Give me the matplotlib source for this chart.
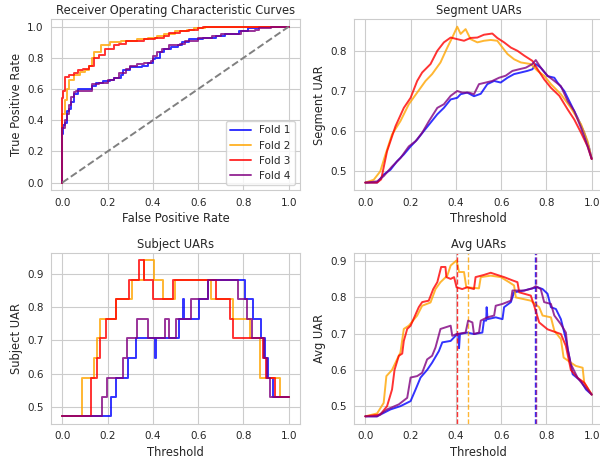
import matplotlib
matplotlib.use("Agg")
import matplotlib.pyplot as plt
import seaborn as sns

sns.set_style("whitegrid")
plt.rcParams["font.family"] = ["DejaVu Sans"]

folds = ["Fold 1", "Fold 2", "Fold 3", "Fold 4"]
colors = ["blue", "orange", "red", "purple"]

# ROC curves (fpr, tpr) per fold
roc_fpr = [
    [0, 0, 0.005, 0.01, 0.02, 0.03, 0.04, 0.05, 0.07, 0.12, 0.13, 0.15, 0.18, 0.21, 0.23, 0.26, 0.27, 0.30,
     0.35, 0.38, 0.40, 0.41, 0.43, 0.45, 0.48, 0.51, 0.53, 0.56, 0.62, 0.68, 0.72, 0.78, 0.82, 0.87, 1.0],
    [0, 0, 0.01, 0.02, 0.03, 0.05, 0.08, 0.10, 0.12, 0.13, 0.14, 0.17, 0.17, 0.21, 0.26, 0.33, 0.38, 0.42,
     0.45, 0.50, 0.55, 0.58, 0.63, 1.0],
    [0, 0, 0.005, 0.01, 0.03, 0.05, 0.07, 0.09, 0.12, 0.14, 0.14, 0.16, 0.19, 0.19, 0.23, 0.25, 0.28, 0.36,
     0.41, 0.45, 0.47, 0.52, 0.56, 0.60, 0.62, 1.0],
    [0, 0, 0.01, 0.02, 0.03, 0.04, 0.05, 0.06, 0.12, 0.13, 0.16, 0.20, 0.23, 0.25, 0.28, 0.30, 0.33, 0.36,
     0.39, 0.40, 0.42, 0.44, 0.47, 0.52, 0.54, 0.60, 0.66, 0.70, 0.79, 0.85, 0.87, 0.92, 1.0],
]
roc_tpr = [
    [0, 0.31, 0.37, 0.38, 0.46, 0.47, 0.52, 0.57, 0.60, 0.60, 0.62, 0.64, 0.65, 0.66, 0.67, 0.69, 0.72, 0.74,
     0.75, 0.77, 0.79, 0.80, 0.84, 0.86, 0.87, 0.88, 0.90, 0.92, 0.93, 0.94, 0.95, 0.97, 0.99, 1.0, 1.0],
    [0, 0.44, 0.53, 0.60, 0.66, 0.69, 0.71, 0.72, 0.75, 0.80, 0.84, 0.85, 0.88, 0.90, 0.91, 0.92, 0.93, 0.94,
     0.95, 0.97, 0.98, 0.99, 1.0, 1.0],
    [0, 0.54, 0.59, 0.68, 0.69, 0.70, 0.72, 0.73, 0.75, 0.76, 0.80, 0.82, 0.83, 0.86, 0.88, 0.89, 0.91, 0.92,
     0.93, 0.94, 0.96, 0.97, 0.98, 0.99, 1.0, 1.0],
    [0, 0.35, 0.40, 0.44, 0.50, 0.55, 0.58, 0.59, 0.59, 0.63, 0.64, 0.66, 0.67, 0.70, 0.73, 0.75, 0.76, 0.77,
     0.78, 0.81, 0.84, 0.86, 0.88, 0.89, 0.91, 0.93, 0.94, 0.95, 0.97, 0.98, 0.99, 1.0, 1.0],
]

# Segment UARs per fold
seg_x = [
    [0, 0.052, 0.081, 0.111, 0.14, 0.17, 0.2, 0.229, 0.258, 0.288, 0.318, 0.347, 0.377, 0.406, 0.421, 0.45,
     0.48, 0.51, 0.539, 0.569, 0.598, 0.628, 0.657, 0.687, 0.716, 0.738, 0.753, 0.775, 0.805, 0.835, 0.849,
     0.879, 0.908, 0.938, 0.967, 0.989, 1.0],
    [0, 0.037, 0.066, 0.089, 0.118, 0.155, 0.192, 0.229, 0.266, 0.295, 0.332, 0.362, 0.384, 0.406, 0.421,
     0.443, 0.465, 0.495, 0.524, 0.554, 0.583, 0.606, 0.628, 0.657, 0.687, 0.731, 0.761, 0.79, 0.82, 0.864,
     0.908, 0.953, 0.982, 1.0],
    [0, 0.052, 0.07, 0.096, 0.133, 0.17, 0.2, 0.229, 0.251, 0.288, 0.318, 0.347, 0.377, 0.406, 0.436, 0.465,
     0.495, 0.524, 0.561, 0.583, 0.613, 0.643, 0.672, 0.702, 0.738, 0.761, 0.79, 0.82, 0.857, 0.894, 0.923,
     0.953, 0.982, 1.0],
    [0, 0.052, 0.081, 0.118, 0.155, 0.192, 0.222, 0.251, 0.281, 0.318, 0.347, 0.377, 0.406, 0.428, 0.458,
     0.48, 0.502, 0.532, 0.561, 0.591, 0.62, 0.65, 0.679, 0.709, 0.738, 0.753, 0.775, 0.805, 0.835, 0.864,
     0.894, 0.923, 0.953, 0.982, 1.0],
]
seg_y = [
    [0.472, 0.472, 0.492, 0.504, 0.525, 0.542, 0.562, 0.579, 0.600, 0.621, 0.642, 0.658, 0.679, 0.683, 0.692,
     0.696, 0.687, 0.693, 0.717, 0.725, 0.721, 0.733, 0.742, 0.746, 0.750, 0.754, 0.767, 0.758, 0.737, 0.733,
     0.721, 0.700, 0.667, 0.633, 0.596, 0.558, 0.531],
    [0.472, 0.479, 0.500, 0.542, 0.592, 0.625, 0.667, 0.696, 0.725, 0.742, 0.771, 0.808, 0.833, 0.860, 0.842,
     0.854, 0.829, 0.821, 0.825, 0.827, 0.825, 0.808, 0.792, 0.779, 0.771, 0.767, 0.750, 0.738, 0.717, 0.692,
     0.658, 0.617, 0.575, 0.531],
    [0.472, 0.472, 0.480, 0.550, 0.612, 0.658, 0.683, 0.725, 0.746, 0.767, 0.800, 0.821, 0.833, 0.829, 0.825,
     0.832, 0.833, 0.840, 0.843, 0.832, 0.821, 0.808, 0.800, 0.788, 0.775, 0.754, 0.729, 0.708, 0.688, 0.654,
     0.629, 0.596, 0.562, 0.531],
    [0.472, 0.475, 0.488, 0.512, 0.533, 0.562, 0.575, 0.596, 0.625, 0.658, 0.667, 0.688, 0.700, 0.696, 0.696,
     0.692, 0.717, 0.721, 0.725, 0.733, 0.738, 0.750, 0.754, 0.758, 0.767, 0.777, 0.758, 0.738, 0.725, 0.712,
     0.675, 0.650, 0.608, 0.562, 0.531],
]

# Subject UARs per fold (step levels)
subj_x = [
    [0, 0.214, 0.236, 0.288, 0.325, 0.408, 0.412, 0.517, 0.534, 0.538, 0.606, 0.643, 0.805, 0.842, 0.879,
     0.894, 0.908, 0.93, 1.0],
    [0, 0.089, 0.14, 0.155, 0.165, 0.236, 0.31, 0.362, 0.406, 0.443, 0.50, 0.657, 0.755, 0.827, 0.873,
     0.963, 1.0],
    [0, 0.126, 0.152, 0.167, 0.195, 0.236, 0.295, 0.337, 0.362, 0.399, 0.487, 0.68, 0.739, 0.754, 0.886,
     0.90, 0.938, 1.0],
    [0, 0.177, 0.196, 0.266, 0.284, 0.329, 0.38, 0.454, 0.473, 0.502, 0.569, 0.643, 0.775, 0.815, 0.837,
     0.89, 0.905, 0.916, 1.0],
]
subj_y = [
    [0.471, 0.529, 0.588, 0.647, 0.706, 0.647, 0.706, 0.765, 0.824, 0.765, 0.824, 0.882, 0.824, 0.765, 0.706,
     0.647, 0.588, 0.529, 0.529],
    [0.471, 0.588, 0.647, 0.706, 0.765, 0.824, 0.882, 0.941, 0.882, 0.824, 0.882, 0.824, 0.765, 0.706, 0.588,
     0.529, 0.529],
    [0.471, 0.588, 0.647, 0.706, 0.765, 0.824, 0.882, 0.941, 0.882, 0.824, 0.882, 0.824, 0.765, 0.706, 0.647,
     0.588, 0.529, 0.529],
    [0.471, 0.529, 0.588, 0.647, 0.706, 0.765, 0.706, 0.765, 0.706, 0.765, 0.824, 0.882, 0.824, 0.765, 0.706,
     0.647, 0.588, 0.529, 0.529],
]

# Avg UARs per fold
avg_x = [
    [0, 0.052, 0.111, 0.155, 0.2, 0.222, 0.244, 0.273, 0.295, 0.325, 0.34, 0.377, 0.406, 0.41, 0.414, 0.418,
     0.45, 0.48, 0.517, 0.524, 0.534, 0.536, 0.54, 0.576, 0.606, 0.613, 0.643, 0.657, 0.702, 0.738, 0.761,
     0.783, 0.805, 0.82, 0.842, 0.864, 0.886, 0.90, 0.916, 0.953, 0.975, 1.0],
    [0, 0.052, 0.081, 0.093, 0.118, 0.14, 0.155, 0.17, 0.192, 0.229, 0.251, 0.288, 0.31, 0.332, 0.362, 0.377,
     0.403, 0.414, 0.436, 0.446, 0.502, 0.51, 0.554, 0.598, 0.635, 0.657, 0.665, 0.731, 0.768, 0.783, 0.82,
     0.835, 0.864, 0.876, 0.908, 0.93, 0.96, 0.967, 1.0],
    [0, 0.066, 0.096, 0.118, 0.129, 0.148, 0.163, 0.17, 0.185, 0.2, 0.236, 0.251, 0.28, 0.30, 0.318, 0.335,
     0.354, 0.358, 0.377, 0.392, 0.403, 0.428, 0.45, 0.48, 0.487, 0.524, 0.554, 0.583, 0.613, 0.65, 0.672,
     0.68, 0.731, 0.746, 0.768, 0.805, 0.864, 0.886, 0.908, 0.938, 0.967, 1.0],
    [0, 0.052, 0.096, 0.148, 0.185, 0.2, 0.229, 0.251, 0.273, 0.295, 0.31, 0.332, 0.377, 0.384, 0.403, 0.443,
     0.454, 0.473, 0.48, 0.502, 0.51, 0.539, 0.569, 0.576, 0.606, 0.643, 0.65, 0.702, 0.738, 0.753, 0.775,
     0.79, 0.82, 0.835, 0.864, 0.886, 0.894, 0.908, 0.938, 0.967, 1.0],
]
avg_y = [
    [0.472, 0.472, 0.491, 0.500, 0.514, 0.546, 0.579, 0.600, 0.620, 0.652, 0.676, 0.680, 0.699, 0.699, 0.660,
     0.699, 0.703, 0.699, 0.703, 0.736, 0.736, 0.773, 0.740, 0.745, 0.740, 0.773, 0.787, 0.814, 0.819, 0.825,
     0.828, 0.823, 0.810, 0.773, 0.768, 0.740, 0.685, 0.639, 0.588, 0.569, 0.546, 0.532],
    [0.472, 0.480, 0.509, 0.583, 0.600, 0.629, 0.648, 0.713, 0.722, 0.750, 0.777, 0.786, 0.823, 0.842, 0.860,
     0.888, 0.902, 0.870, 0.870, 0.828, 0.825, 0.856, 0.860, 0.856, 0.842, 0.833, 0.800, 0.791, 0.773, 0.750,
     0.745, 0.708, 0.685, 0.634, 0.620, 0.611, 0.606, 0.565, 0.532],
    [0.472, 0.477, 0.500, 0.546, 0.600, 0.639, 0.645, 0.680, 0.713, 0.722, 0.773, 0.787, 0.791, 0.823, 0.842,
     0.884, 0.884, 0.856, 0.851, 0.856, 0.828, 0.823, 0.828, 0.823, 0.856, 0.862, 0.868, 0.862, 0.856, 0.847,
     0.842, 0.814, 0.805, 0.777, 0.731, 0.712, 0.699, 0.666, 0.600, 0.578, 0.565, 0.532],
    [0.472, 0.472, 0.491, 0.505, 0.523, 0.579, 0.583, 0.592, 0.629, 0.639, 0.662, 0.713, 0.722, 0.694, 0.699,
     0.703, 0.736, 0.731, 0.699, 0.703, 0.736, 0.745, 0.750, 0.777, 0.782, 0.791, 0.819, 0.819, 0.825, 0.831,
     0.823, 0.787, 0.782, 0.750, 0.726, 0.703, 0.657, 0.616, 0.578, 0.555, 0.532],
]
best_thresholds = [0.75, 0.453, 0.403, 0.755]

fig, axes = plt.subplots(2, 2, figsize=(6.0, 4.61), dpi=100)
plt.subplots_adjust(left=0.085, right=1.005, bottom=0.080, top=0.959, wspace=0.217, hspace=0.363)

ax = axes[0, 0]
for i in range(4):
    ax.plot(roc_fpr[i], roc_tpr[i], color=colors[i], lw=1.4, alpha=0.8, drawstyle="steps-post", label=folds[i])
ax.plot([0, 1], [0, 1], color="gray", linestyle="--", lw=1.4)
ax.set_title("Receiver Operating Characteristic Curves", fontsize=8.3, pad=3.5)
ax.set_xlabel("False Positive Rate", fontsize=8.3, labelpad=3)
ax.set_ylabel("True Positive Rate", fontsize=8.3, labelpad=3)
ax.legend(loc="lower right", fontsize=7.5)

ax = axes[0, 1]
for i in range(4):
    ax.plot(seg_x[i], seg_y[i], color=colors[i], lw=1.4, alpha=0.8)
ax.set_title("Segment UARs", fontsize=8.3, pad=3.5)
ax.set_xlabel("Threshold", fontsize=8.3, labelpad=3)
ax.set_ylabel("Segment UAR", fontsize=8.3, labelpad=3)

ax = axes[1, 0]
for i in range(4):
    ax.plot(subj_x[i], subj_y[i], color=colors[i], lw=1.4, alpha=0.8, drawstyle="steps-post")
ax.set_title("Subject UARs", fontsize=8.3, pad=3.5)
ax.set_xlabel("Threshold", fontsize=8.3, labelpad=3)
ax.set_ylabel("Subject UAR", fontsize=8.3, labelpad=3)

ax = axes[1, 1]
for i in range(4):
    ax.plot(avg_x[i], avg_y[i], color=colors[i], lw=1.4, alpha=0.8)
    ax.axvline(best_thresholds[i], color=colors[i], linestyle="--", lw=1.0, alpha=0.8)
ax.set_title("Avg UARs", fontsize=8.3, pad=3.5)
ax.set_xlabel("Threshold", fontsize=8.3, labelpad=3)
ax.set_ylabel("Avg UAR", fontsize=8.3, labelpad=3)

for ax in axes.flat:
    ax.tick_params(labelsize=7.5, pad=1.8)

plt.savefig("out.png", dpi=100)
